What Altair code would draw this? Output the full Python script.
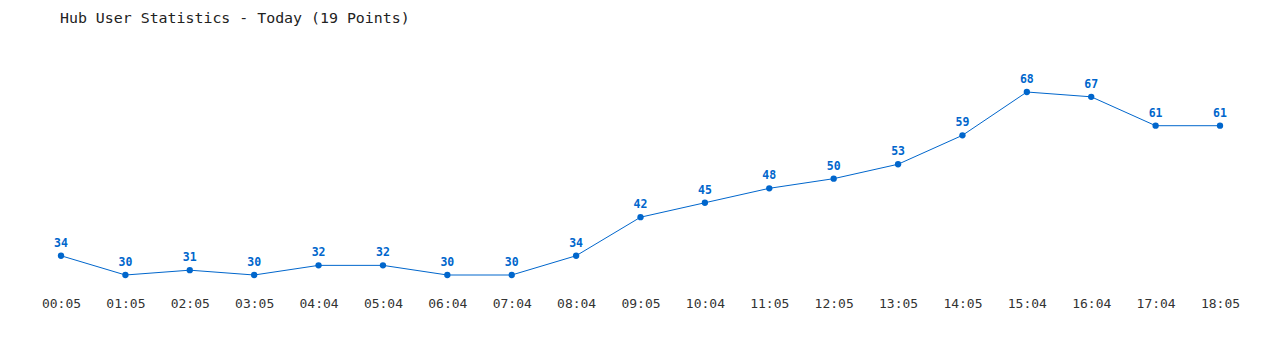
import altair as alt
import pandas as pd

times = ["00:05", "01:05", "02:05", "03:05", "04:04", "05:04", "06:04", "07:04", "08:04",
         "09:05", "10:04", "11:05", "12:05", "13:05", "14:05", "15:04", "16:04", "17:04", "18:05"]
users = [34, 30, 31, 30, 32, 32, 30, 30, 34, 42, 45, 48, 50, 53, 59, 68, 67, 61, 61]

df = pd.DataFrame({"time": times, "users": users})
blue = "#0066cc"
font = "DejaVu Sans Mono"

x = alt.X("time:O", sort=None,
          scale=alt.Scale(type="point", padding=0),
          axis=alt.Axis(title=None, domain=False, ticks=False, labelAngle=0,
                        labelFont=font, labelFontSize=13, labelColor="#333333",
                        labelPadding=22))
y = alt.Y("users:Q", scale=alt.Scale(domain=[30, 68], zero=False, nice=False), axis=None)

base = alt.Chart(df).encode(x=x, y=y)
line = base.mark_line(color=blue, strokeWidth=1)
pts = base.mark_circle(color=blue, size=40, opacity=1)
labels = base.mark_text(color=blue, font=font, fontSize=11.5, fontWeight="bold", dy=-12).encode(text="users:Q")

chart = (line + pts + labels).properties(
    width=1159, height=183,
    autosize=alt.AutoSizeParams(type="none"),
    padding={"left": 61, "top": 92, "right": 60, "bottom": 75},
    title=alt.TitleParams("Hub User Statistics - Today (19 Points)", anchor="start",
                          font=font, fontSize=14.9, fontWeight="normal", color="#222222",
                          offset=48, dx=-1, frame="group"),
).configure_view(stroke=None)

chart.save("out.html", embed_options={"renderer": "svg", "actions": False})
